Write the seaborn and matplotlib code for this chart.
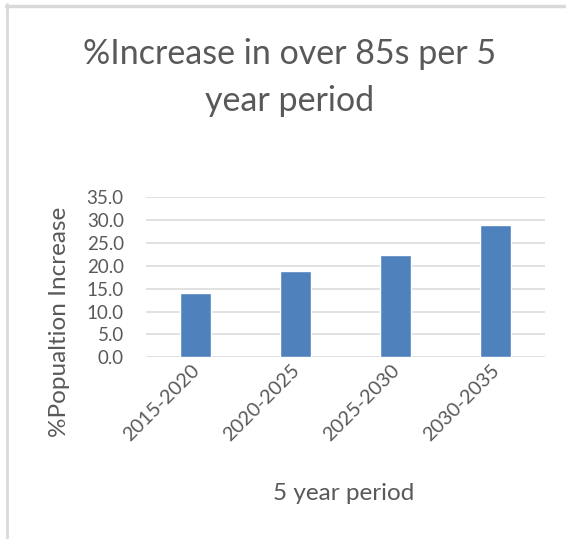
import matplotlib
matplotlib.use("Agg")
import matplotlib.pyplot as plt
import matplotlib.transforms as mtransforms
from matplotlib.lines import Line2D
import seaborn as sns
import pandas as pd

# Data
periods = ["2015-2020", "2020-2025", "2025-2030", "2030-2035"]
pct_increase = [14.0, 18.9, 22.4, 29.0]
y_ticks = [0, 5, 10, 15, 20, 25, 30, 35]

title_lines = ["%Increase in over 85s per 5", "year period"]
x_title = "5 year period"
y_title = "%Popualtion Increase"

sns.set_theme(style="white")
plt.rcParams["font.family"] = ["Lato", "DejaVu Sans"]

TEXT = "#595959"
GRID = "#d9d9d9"
BAR = "#4f81bd"

W, H = 566, 539
fig = plt.figure(figsize=(W / 100, H / 100), dpi=100)
fig.patch.set_facecolor("white")

ax = fig.add_axes([146 / W, 1 - 357.3 / H, (545 - 146) / W, (357.3 - 197.3) / H])

df = pd.DataFrame({"period": periods, "value": pct_increase})
sns.barplot(data=df, x="period", y="value", color=BAR, width=0.31,
            saturation=1, ax=ax, zorder=3)

ax.set_xlim(-0.5, len(periods) - 0.5)
ax.set_ylim(0, 35)
ax.set_yticks(y_ticks)
ax.set_yticklabels([f"{v:.1f}" for v in y_ticks])
ax.yaxis.grid(True, color=GRID, linewidth=1.1, zorder=0)
ax.set_axisbelow(True)
for s in ax.spines.values():
    s.set_visible(False)
ax.tick_params(axis="y", length=0, colors=TEXT, labelsize=13.5, pad=16)
ax.tick_params(axis="x", length=0, colors=TEXT, labelsize=14.3, pad=3)

# Rotated category labels, nudged slightly left of each tick
shift = mtransforms.ScaledTranslation(-5 / 100, 0, fig.dpi_scale_trans)
for lbl in ax.get_xticklabels():
    lbl.set_rotation(45)
    lbl.set_ha("right")
    lbl.set_va("top")
    lbl.set_rotation_mode("anchor")
    lbl.set_transform(lbl.get_transform() + shift)
ax.set_xlabel("")
ax.set_ylabel("")

fig.text(290 / W, 1 - 54 / H, title_lines[0], ha="center", va="center",
         fontsize=24.5, color=TEXT)
fig.text(290 / W, 1 - 101 / H, title_lines[1], ha="center", va="center",
         fontsize=24.5, color=TEXT)
fig.text(344 / W, 1 - 493 / H, x_title, ha="center", va="center",
         fontsize=17.5, color=TEXT)
fig.text(60 / W, 1 - 322 / H, y_title, ha="center", va="center",
         rotation=90, fontsize=17.5, color=TEXT)

# Frame edges along the left and top
fig.add_artist(Line2D([7 / W, 7 / W], [0, 1 - 4 / H], transform=fig.transFigure,
                      color=GRID, linewidth=2))
fig.add_artist(Line2D([6 / W, 1], [1 - 6 / H, 1 - 6 / H], transform=fig.transFigure,
                      color=GRID, linewidth=2.5))

fig.savefig("out.png", dpi=100, facecolor="white")
